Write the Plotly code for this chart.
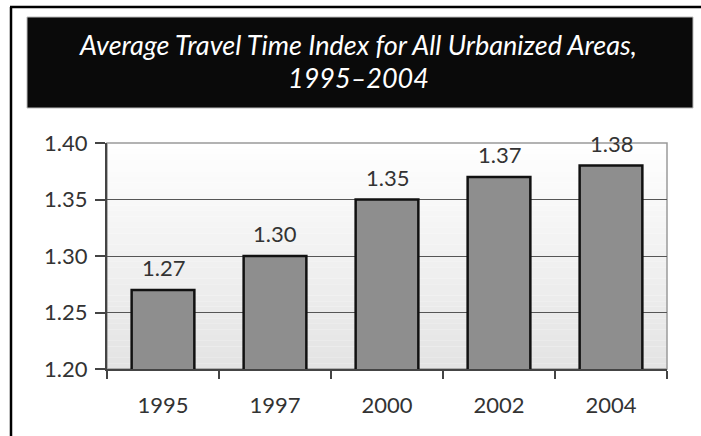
import plotly.graph_objects as go

years = ["1995", "1997", "2000", "2002", "2004"]
tti = [1.27, 1.30, 1.35, 1.37, 1.38]
y_ticks = [1.20, 1.25, 1.30, 1.35, 1.40]
y_tick_labels = ["1.20", "1.25", "1.30", "1.35", "1.40"]
title_line1 = "Average Travel Time Index for All Urbanized Areas,"
title_line2 = "1995\u20132004"

W, H = 701, 436
L, R, T, B = 107, 667, 143, 369
pw, ph = R - L, B - T


def px(x):
    return (x - L) / pw


def py(y):
    return (B - y) / ph


FONT = "Lato"

fig = go.Figure()
fig.add_trace(go.Bar(
    x=years, y=tti, width=0.56,
    marker=dict(color="#8e8e8e", line=dict(color="#111111", width=2.5)),
    hoverinfo="x+y",
))

shapes = []
# gradient plot background
n = 40
for i in range(n):
    f = i / (n - 1)
    c = int(255 - (255 - 228) * f)
    shapes.append(dict(type="rect", xref="paper", yref="paper",
                       x0=0, x1=1, y0=1 - (i + 1) / n, y1=1 - i / n,
                       fillcolor=f"rgb({c},{c},{c})", line=dict(width=0), layer="below"))
# plot frame (top/right)
shapes.append(dict(type="rect", xref="paper", yref="paper", x0=0, x1=1, y0=0, y1=1,
                   line=dict(color="#9a9a9a", width=1.5), fillcolor="rgba(0,0,0,0)", layer="below"))
# title box
shapes.append(dict(type="rect", xref="paper", yref="paper",
                   x0=px(27), x1=px(693), y0=py(108), y1=py(17),
                   fillcolor="#0a0a0a", line=dict(color="#bbbbbb", width=1)))
# outer border lines
shapes.append(dict(type="line", xref="paper", yref="paper",
                   x0=px(10), x1=px(705), y0=py(7), y1=py(7),
                   line=dict(color="#000000", width=2.5)))
shapes.append(dict(type="line", xref="paper", yref="paper",
                   x0=px(11), x1=px(11), y0=py(7), y1=py(440),
                   line=dict(color="#000000", width=2.5)))

annotations = []
for i, v in enumerate(tti):
    annotations.append(dict(x=i, y=v, xref="x", yref="y", text=f"{v:.2f}",
                            showarrow=False, yanchor="bottom", yshift=7,
                            font=dict(family=FONT, size=22, color="#333333")))
annotations.append(dict(x=px(358), y=py(44), xref="paper", yref="paper",
                        text=f"<i>{title_line1}</i>", showarrow=False,
                        xanchor="center", yanchor="middle",
                        font=dict(family=FONT, size=27, color="#ffffff")))
annotations.append(dict(x=px(358), y=py(77), xref="paper", yref="paper",
                        text=f"<i>{title_line2}</i>", showarrow=False,
                        xanchor="center", yanchor="middle",
                        font=dict(family=FONT, size=27, color="#ffffff")))

fig.update_layout(
    width=W, height=H,
    margin=dict(l=L, r=W - R, t=T, b=H - B, pad=0, autoexpand=False),
    paper_bgcolor="#ffffff",
    plot_bgcolor="rgba(0,0,0,0)",
    showlegend=False,
    bargap=0.44,
    shapes=shapes,
    annotations=annotations,
    font=dict(family=FONT, color="#333333"),
)
fig.update_xaxes(
    type="category", range=[-0.5, len(years) - 0.5], autorange=False,
    tickson="boundaries", ticks="outside", ticklen=8,
    tickcolor="#444444", tickwidth=1.5, tickangle=0, automargin=False,
    showline=True, linecolor="#444444", linewidth=2, showgrid=False,
    tickfont=dict(family=FONT, size=22, color="#333333"),
    ticklabelstandoff=16,
)
fig.update_yaxes(
    range=[1.2, 1.4], autorange=False, tickvals=y_ticks, ticktext=y_tick_labels,
    ticks="outside", ticklen=10, tickcolor="#444444", tickwidth=1.5, automargin=False,
    showline=True, linecolor="#444444", linewidth=2,
    showgrid=True, gridcolor="#555555", gridwidth=1.2, zeroline=False,
    tickfont=dict(family=FONT, size=22, color="#333333"),
    ticklabelstandoff=3,
)
fig.update_traces(cliponaxis=False)

fig.write_html("out.html")
